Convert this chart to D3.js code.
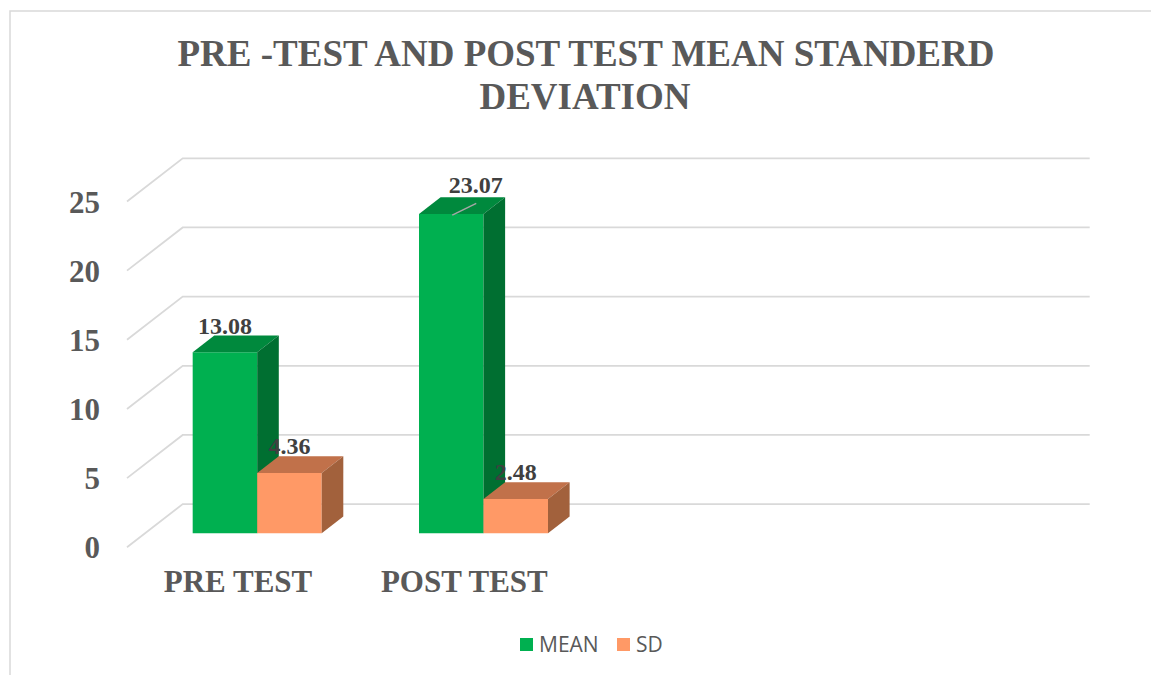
<html>
<head>
  <meta charset="utf-8">
  <title>Pre-test and post test</title>
  <script src="https://cdn.jsdelivr.net/npm/d3@7"></script>
  <style>
    body { margin: 0; background: #fff; }
    svg text { font-family: "Liberation Serif", "Times New Roman", serif; }
  </style>
</head>
<body>
<div id="chart"></div>
<script>
// data
var categories = ["PRE TEST", "POST TEST"];
var slotCount = 4;              // the sheet had two more (empty) category rows
var seriesNames = ["MEAN", "SD"];
var meanValues = [13.08, 23.07];
var sdValues = [4.36, 2.48];
var yTicks = [0, 5, 10, 15, 20, 25];

var seriesValues = [meanValues, sdValues];
var colors = [
  { front: "#00B050", top: "#00893D", side: "#006F31" },
  { front: "#FF9966", top: "#C1714A", side: "#A2613C" }
];

var w = 1151, h = 675;

// oblique 3d: front-left corner of floor, and the depth vector to the back wall
var fx0 = 127, depthX = 55.7, depthY = -43.2;
var axisLen = 907;
var zFront = 0.326, zBack = 0.714;

var y = d3.scaleLinear().domain([0, 25]).range([547.3, 201.5]);
var x = d3.scaleBand().domain(d3.range(slotCount)).range([0, axisLen - 4])
  .paddingInner(0.43).paddingOuter(0.21);
var x1 = d3.scaleBand().domain(d3.range(seriesNames.length)).range([0, x.bandwidth()]);

function P(px, v, z) {
  return [fx0 + px + z * depthX, y(v) + z * depthY];
}

var svg = d3.select("#chart").append("svg")
  .attr("width", w).attr("height", h);

// chart area border
svg.append("rect")
  .attr("x", 10).attr("y", 11).attr("width", 1300).attr("height", 800)
  .attr("fill", "none").attr("stroke", "#D9D9D9").attr("stroke-width", 1.5);

// title
svg.append("text")
  .attr("x", 586).attr("y", 66)
  .attr("text-anchor", "middle")
  .attr("font-size", "37px").attr("font-weight", "bold").attr("fill", "#595959")
  .text("PRE -TEST AND POST TEST MEAN STANDERD");
svg.append("text")
  .attr("x", 585).attr("y", 109)
  .attr("text-anchor", "middle")
  .attr("font-size", "37px").attr("font-weight", "bold").attr("fill", "#595959")
  .text("DEVIATION");

// gridlines: back wall + left side wall diagonals
var grid = svg.append("g").attr("stroke", "#D9D9D9").attr("stroke-width", 1.8).attr("fill", "none");
yTicks.forEach(function(t) {
  var a = P(0, t, 0), b = P(0, t, 1), c = P(axisLen, t, 1);
  grid.append("path").attr("d", d3.line()([a, b, c]));
});

// y tick labels
svg.selectAll("text.ytick")
  .data(yTicks)
  .enter()
  .append("text")
  .attr("class", "ytick")
  .attr("x", 100)
  .attr("y", function(d) { return y(d) + 11; })
  .attr("text-anchor", "end")
  .attr("font-size", "31px").attr("font-weight", "bold").attr("fill", "#595959")
  .text(function(d) { return d; });

// bars
var bars = [];
categories.forEach(function(c, ci) {
  seriesNames.forEach(function(s, si) {
    bars.push({ ci: ci, si: si, v: seriesValues[si][ci] });
  });
});

var barG = svg.append("g");
bars.forEach(function(b) {
  var x0 = x(b.ci) + x1(b.si), xr = x0 + x1.bandwidth();
  var col = colors[b.si];
  var g = barG.append("g");
  // front
  g.append("path").attr("fill", col.front)
    .attr("d", d3.line()([P(x0, 0, zFront), P(x0, b.v, zFront), P(xr, b.v, zFront), P(xr, 0, zFront)]) + "Z");
  // top
  g.append("path").attr("fill", col.top)
    .attr("d", d3.line()([P(x0, b.v, zFront), P(xr, b.v, zFront), P(xr, b.v, zBack), P(x0, b.v, zBack)]) + "Z");
  // right side
  g.append("path").attr("fill", col.side)
    .attr("d", d3.line()([P(xr, b.v, zFront), P(xr, b.v, zBack), P(xr, 0, zBack), P(xr, 0, zFront)]) + "Z");
});

// data labels (post test mean label was dragged a bit in the original, with a leader line)
bars.forEach(function(b) {
  var cx = P(x(b.ci) + x1(b.si) + x1.bandwidth() / 2, b.v, zFront)[0];
  var by = P(0, b.v, zBack)[1] - 2;
  var moved = (b.si === 0 && b.ci === 1);
  if (moved) {
    var ft = P(x(b.ci) + x1(b.si) + x1.bandwidth() / 2, b.v, zFront);
    svg.append("line")
      .attr("x1", ft[0] + 1).attr("y1", ft[1] + 1)
      .attr("x2", cx + 25).attr("y2", by + 8)
      .attr("stroke", "#A6A6A6").attr("stroke-width", 1.5);
    cx += 24.5; by -= 2.6;
  }
  svg.append("text")
    .attr("x", cx).attr("y", by)
    .attr("text-anchor", "middle")
    .attr("font-size", "24px").attr("font-weight", "bold").attr("fill", "#404040")
    .text(b.v.toFixed(2));
});

// category labels
svg.selectAll("text.cat")
  .data(categories)
  .enter()
  .append("text")
  .attr("class", "cat")
  .attr("x", function(d, i) { return fx0 + x(i) + x.bandwidth() / 2 - 1; })
  .attr("y", 592)
  .attr("text-anchor", "middle")
  .attr("font-size", "31px").attr("font-weight", "bold").attr("fill", "#595959")
  .text(function(d) { return d; });

// legend
var legendX = [520, 617];
var leg = svg.selectAll("g.leg")
  .data(seriesNames)
  .enter()
  .append("g")
  .attr("class", "leg")
  .attr("transform", function(d, i) { return "translate(" + legendX[i] + ",638)"; });
leg.append("rect").attr("width", 13).attr("height", 13)
  .attr("fill", function(d, i) { return colors[i].front; });
leg.append("text")
  .attr("x", 19).attr("y", 14)
  .style("font-family", "'Open Sans', 'Noto Sans', sans-serif")
  .attr("font-size", "21px").attr("fill", "#595959")
  .text(function(d) { return d; });
</script>
</body>
</html>
